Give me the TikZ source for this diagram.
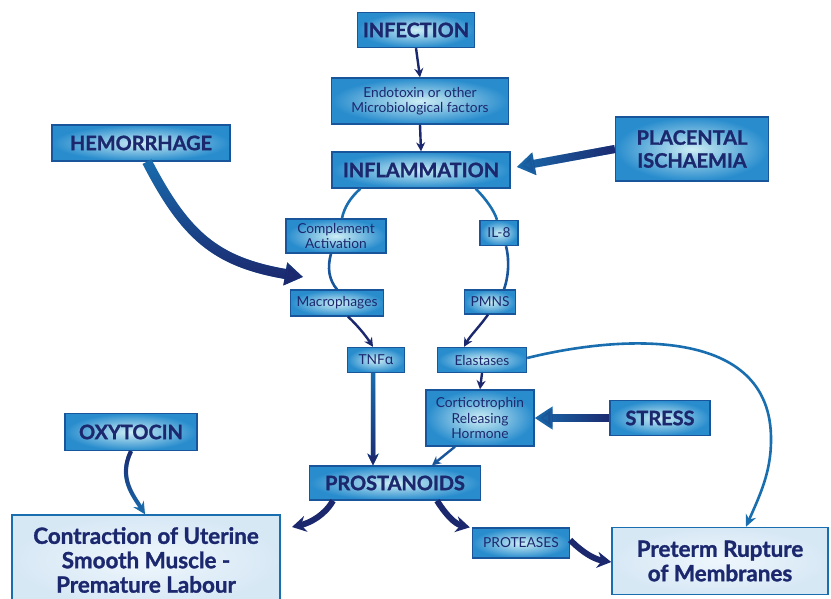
\documentclass[tikz,border=0pt]{standalone}
\usepackage{fontspec}
\setmainfont{Lato}
\newfontfamily\heavyfont[FakeBold=1.3]{Lato}
\newfontfamily\greekfont{Noto Sans}
\usetikzlibrary{arrows.meta,fadings}
\definecolor{navy}{RGB}{28,40,110}
\definecolor{edge}{RGB}{25,85,155}
\definecolor{boxout}{RGB}{40,140,205}
\definecolor{boxin}{RGB}{205,238,245}
\definecolor{lineblue}{RGB}{25,110,175}
\definecolor{pale}{RGB}{215,232,245}
\definecolor{palein}{RGB}{238,246,252}
\tikzset{
  box/.style={draw=edge, line width=1.3bp, inner color=boxin, outer color=boxout,
    text=navy, inner sep=0pt, align=center},
  bigbox/.style={draw=lineblue, line width=1.5bp, inner color=palein, outer color=pale,
    text=navy, inner sep=0pt, align=center},
  head/.style={font=\fontsize{20}{23}\heavyfont\bfseries},
  small/.style={font=\fontsize{13.8}{15.5}\selectfont},
  bottomtxt/.style={font=\fontsize{22.5}{24.5}\heavyfont\bfseries},
  thin/.style={draw=lineblue, line width=2.6bp},
  thinarrow/.style={draw=navy, line width=2.4bp, -{Stealth[length=9bp,width=9bp]}},
  thick/.style={line width=8bp, -{Triangle[length=18bp,width=22bp]}},
}
\begin{document}
\begin{tikzpicture}[x=1bp,y=-1bp]
\useasboundingbox[fill=white] (0,0) rectangle (831,599);

% nodes
\node[box,head,minimum width=117bp,minimum height=35bp] (inf) at (416,30) {INFECTION};
\node[box,small,minimum width=177bp,minimum height=46bp] (endo) at (420,101) {Endotoxin or other\\Microbiological factors};
\node[box,head,minimum width=178bp,minimum height=36bp] (infl) at (421,170) {INFLAMMATION};
\node[box,head,minimum width=178bp,minimum height=36bp] (hem) at (141,143) {HEMORRHAGE};
\node[box,head,minimum width=153bp,minimum height=64bp] (plac) at (692,149) {PLACENTAL\\ISCHAEMIA};
\node[box,small,minimum width=100bp,minimum height=34bp] (comp) at (336,236) {Complement\\Activation};
\node[box,small,minimum width=38bp,minimum height=25bp] (il) at (499,233) {IL-8};
\node[box,small,minimum width=93bp,minimum height=26bp] (mac) at (337,303) {Macrophages};
\node[box,small,minimum width=51bp,minimum height=24bp] (pmns) at (490,302) {PMNS};
\node[box,small,minimum width=57bp,minimum height=25bp] (tnf) at (376,360) {TNF{\greekfont α}};
\node[box,small,minimum width=89bp,minimum height=25bp] (elas) at (482,360) {Elastases};
\node[box,small,minimum width=108bp,minimum height=56bp] (crh) at (480,418) {Corticotrophin\\Releasing\\Hormone};
\node[box,head,minimum width=100bp,minimum height=35bp] (stress) at (660,418) {STRESS};
\node[box,head,minimum width=132bp,minimum height=37bp] (oxy) at (131,432) {OXYTOCIN};
\node[box,head,minimum width=171bp,minimum height=34bp] (pros) at (395,483) {PROSTANOIDS};
\node[bigbox,bottomtxt,minimum width=268bp,minimum height=90bp] (contr) at (146,560) {Contraction of Uterine\\Smooth Muscle -\\Premature Labour};
\node[box,small,minimum width=97bp,minimum height=30bp] (prot) at (521,543) {PROTEASES};
\node[bigbox,bottomtxt,minimum width=216bp,minimum height=67bp] (pret) at (720,561) {Preterm Rupture\\of Membranes};

\coordinate (hemend) at (303,277);
\coordinate (contrend) at (292,527);

% connectors
\draw[thinarrow] (inf.south) -- (endo.north);
\draw[thinarrow] (endo.south) -- (infl.north);
\draw[thick,draw=lineblue] (plac.west) -- ([xshift=6bp,yshift=3bp]infl.east);
\draw[thick,draw=navy,path fading=west] (plac.west) -- ([xshift=6bp,yshift=3bp]infl.east);
\draw[thick,line width=10bp,draw=lineblue] ([xshift=6bp]hem.south) .. controls (185,235) and (215,262) .. (hemend);
\draw[thick,line width=10bp,draw=navy,path fading=north] ([xshift=6bp]hem.south) .. controls (185,235) and (215,262) .. (hemend);

% left loop
\draw[thin] ([xshift=29bp]infl.south west) .. controls (350,198) and (344,208) .. ([xshift=6bp]comp.north);
\draw[thin,draw=edge] ([xshift=-5bp]comp.south) .. controls (327,268) and (329,280) .. (mac.north);
\draw[thinarrow] ([xshift=11bp]mac.south) .. controls (358,326) and (366,336) .. ([xshift=-3bp]tnf.north);
% right loop
\draw[thin] ([xshift=-35bp]infl.south east) .. controls (485,198) and (494,210) .. ([xshift=-2bp]il.north);
\draw[thin,draw=edge] ([xshift=7bp]il.south) .. controls (510,262) and (508,278) .. ([xshift=14bp]pmns.north);
\draw[thinarrow] ([xshift=-2bp]pmns.south) .. controls (480,326) and (470,336) .. ([xshift=-18bp]elas.north);

\draw[lineblue,line width=4.5bp,-{Stealth[length=12bp,width=12bp]}] ([xshift=-3bp]tnf.south) -- ([xshift=-22bp]pros.north);
\draw[navy,line width=4.5bp,path fading=north,-{Stealth[length=12bp,width=12bp]}] ([xshift=-3bp]tnf.south) -- ([xshift=-22bp]pros.north);
\draw[thinarrow] (elas.south) -- (crh.north);
\draw[thick,draw=lineblue] (stress.west) -- (crh.east);
\draw[thick,draw=navy,path fading=west] (stress.west) -- (crh.east);
\draw[thinarrow,draw=edge] ([xshift=-25bp]crh.south) -- ([xshift=37bp]pros.north);

\draw[thin,-{Stealth[length=12bp,width=11bp]}] ([yshift=2bp]elas.east) .. controls (620,335) and (772,325) .. (771,440) .. controls (771,472) and (760,495) .. ([xshift=26bp]pret.north);

\draw[draw=lineblue,line width=4bp,-{Stealth[length=12bp,width=12bp]}] (oxy.south) .. controls (118,478) and (133,495) .. ([xshift=-1bp]contr.north);
\draw[draw=navy,line width=4bp,path fading=south] (oxy.south) .. controls (118,478) and (133,495) .. ([xshift=-1bp]contr.north);
\draw[draw=navy,line width=6bp,-{Stealth[length=14bp,width=16bp]}] ([xshift=-62bp]pros.south) .. controls (325,515) and (310,523) .. (contrend);
\draw[draw=navy,line width=6bp,-{Stealth[length=14bp,width=16bp]}] ([xshift=42bp]pros.south) .. controls (446,515) and (455,524) .. ([xshift=-2bp]prot.north west);
\draw[draw=navy,line width=6bp,-{Stealth[length=14bp,width=16bp]}] ([yshift=3bp]prot.east) .. controls (586,556) and (598,560) .. ([yshift=-1bp]pret.west);
\end{tikzpicture}
\end{document}
